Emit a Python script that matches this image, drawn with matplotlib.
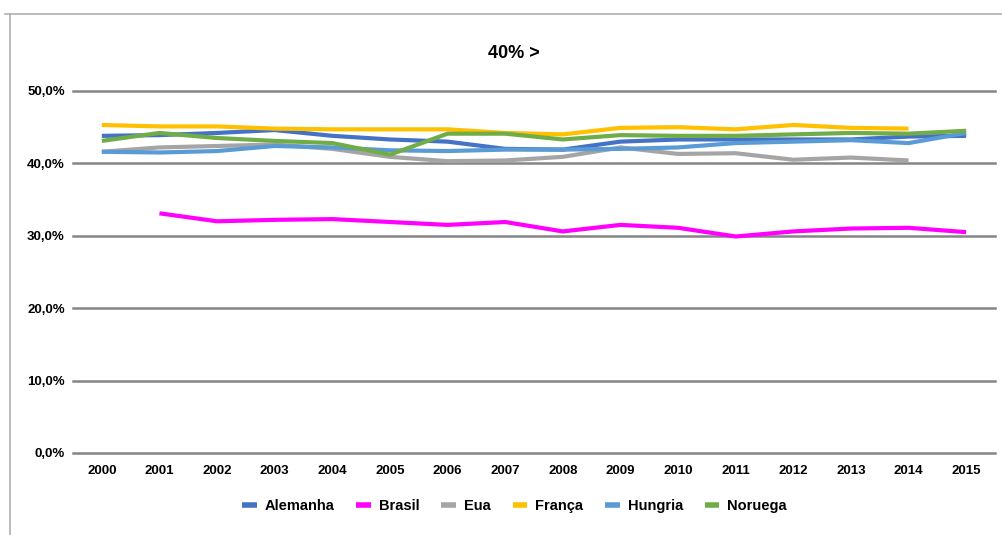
import numpy as np
import matplotlib
matplotlib.use("Agg")
import matplotlib.pyplot as plt
from matplotlib.ticker import FuncFormatter
from matplotlib.lines import Line2D

plt.rcParams['font.family'] = ['Liberation Sans', 'DejaVu Sans']
plt.rcParams['font.weight'] = 'bold'

years = [str(y) for y in range(2000, 2016)]

# percentages per country, None where there is no value
alemanha = [43.8, 43.9, 44.2, 44.6, 43.8, 43.3, 43.0, 42.0, 41.9, 43.0, 43.3, 43.3, 43.3, 43.3, 43.7, 43.8]
brasil = [None, 33.1, 32.0, 32.2, 32.3, 31.9, 31.5, 31.9, 30.6, 31.5, 31.1, 29.9, 30.6, 31.0, 31.1, 30.5]
eua = [41.6, 42.2, 42.4, 42.6, 42.0, 40.9, 40.3, 40.4, 40.9, 42.2, 41.3, 41.4, 40.5, 40.8, 40.4, None]
franca = [45.3, 45.1, 45.1, 44.8, 44.7, 44.7, 44.7, 44.2, 44.0, 44.9, 45.0, 44.7, 45.3, 44.9, 44.8, None]
hungria = [41.6, 41.5, 41.7, 42.4, 42.2, 41.8, 41.7, 41.9, 41.9, 42.0, 42.2, 42.8, 43.0, 43.2, 42.8, 44.2]
noruega = [43.1, 44.2, 43.5, 43.1, 42.8, 41.2, 44.1, 44.1, 43.3, 43.9, 43.8, 43.8, 44.0, 44.2, 44.1, 44.5]

series = [
    ('Alemanha', alemanha, '#4472C4'),
    ('Brasil', brasil, '#FF00FF'),
    ('Eua', eua, '#A5A5A5'),
    ('França', franca, '#FFC000'),
    ('Hungria', hungria, '#5B9BD5'),
    ('Noruega', noruega, '#70AD47'),
]

fig = plt.figure(figsize=(10.03, 5.35), dpi=100)
ax = fig.add_axes([0.0728, 0.1533, 0.9192, 0.6767])

x = np.arange(len(years))
for name, vals, color in series:
    y = np.array([np.nan if v is None else v / 100 for v in vals])
    ax.plot(x, y, color=color, lw=3, label=name, solid_capstyle='butt')

ax.set_xlim(-0.5, len(years) - 0.5)
ax.set_ylim(0, 0.5)
ax.set_yticks(np.arange(0, 0.51, 0.1))
ax.yaxis.set_major_formatter(FuncFormatter(lambda v, p: f"{v * 100:.1f}%".replace('.', ',')))
ax.set_xticks(x)
ax.set_xticklabels(years)
ax.grid(axis='y', color='#858585', lw=1.8)
for gl in ax.get_ygridlines():
    gl.set_clip_on(False)
ax.set_axisbelow(True)
for s in ax.spines.values():
    s.set_visible(False)
ax.tick_params(length=0, labelsize=9.5)
ax.tick_params(axis='y', pad=6)
ax.tick_params(axis='x', pad=9)

fig.text(0.512, 0.9, '40% >', ha='center', va='center', fontsize=13, fontweight='bold')

handles = [Line2D([], [], color=c, lw=4, solid_capstyle='butt') for _, _, c in series]
fig.legend(handles, [n for n, _, _ in series], loc='center', bbox_to_anchor=(0.513, 0.054),
           ncol=6, frameon=False, fontsize=10.5, handlelength=1.0, columnspacing=1.5,
           handletextpad=0.55)

# outer frame of the chart area
fig.add_artist(Line2D([0.005, 1.0], [1 - 14 / 535] * 2, color='#b0b0b0', lw=1.2))
fig.add_artist(Line2D([10 / 1003] * 2, [0, 1 - 14 / 535], color='#b0b0b0', lw=1.2))

fig.savefig('out.png', dpi=100)
